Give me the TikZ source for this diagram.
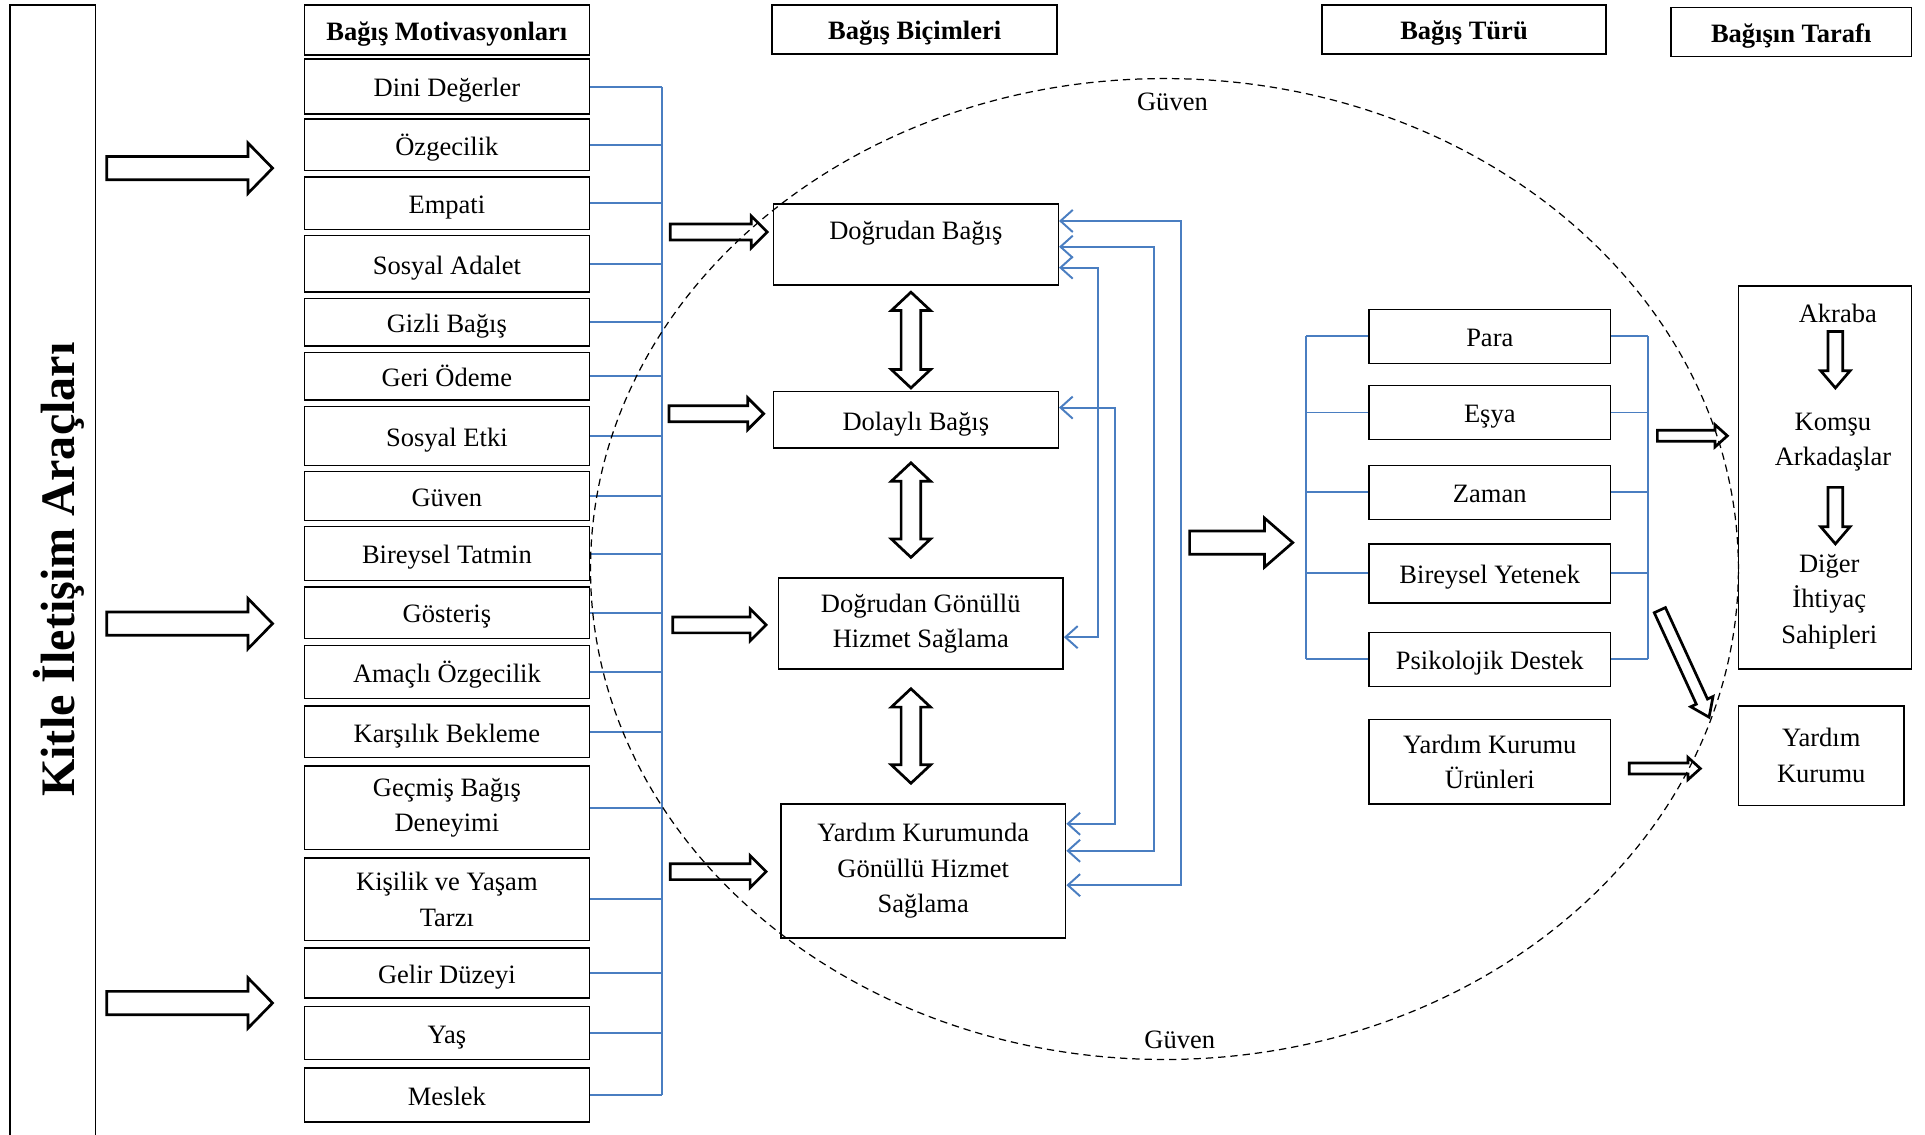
\documentclass[tikz,border=0pt]{standalone}
\usepackage{fontspec}
\setmainfont{Liberation Serif}
\usetikzlibrary{arrows.meta,calc}
\definecolor{fbblue}{RGB}{74,126,193}
\newcommand\bx[7][]{\node[box,#1,minimum width={(#4-#2)*0.5pt},minimum height={(#5-#3)*0.5pt}] (#6) at ({(#2+#4)/2},{(#3+#5)/2}) {#7};}
\newcommand\barrow[7]{\draw[blk,shift={(#1,#2)},rotate=#3] (0,#5) -- ({#4-#7},#5) -- ({#4-#7},#6) -- (#4,0) -- ({#4-#7},-#6) -- ({#4-#7},-#5) -- (0,-#5) -- cycle;}
\newcommand\dbarrow[6]{\draw[blk] ({#1-#4},{#2+#6}) -- ({#1-#5},{#2+#6}) -- (#1,#2) -- ({#1+#5},{#2+#6}) -- ({#1+#4},{#2+#6}) -- ({#1+#4},{#3-#6}) -- ({#1+#5},{#3-#6}) -- (#1,#3) -- ({#1-#5},{#3-#6}) -- ({#1-#4},{#3-#6}) -- cycle;}
\begin{document}
\begin{tikzpicture}[x=0.5pt,y=-0.5pt,
  box/.style={draw,line width=0.6pt,inner sep=0pt,align=center,font=\fontsize{10.8}{14.5}\selectfont},
  one/.style={text height=9.2pt,text depth=0.8pt},
  topt/.style={text height=8pt,text depth=12pt},
  hdr/.style={one,font=\bfseries\fontsize{10.8}{14.5}\selectfont},
  txt/.style={inner sep=0pt,align=center,font=\fontsize{10.8}{14.5}\selectfont},
  blk/.style={draw,line width=1.1pt,line join=miter,fill=white},
  fb/.style={draw=fbblue,line width=0.8pt},
  fba/.style={fb,{Straight Barb[length=5pt,width=9pt]}-{Straight Barb[length=5pt,width=9pt]}},
  guven/.style={draw,line width=0.5pt,dash pattern=on 3pt off 2pt}]
\useasboundingbox (0,0) rectangle (1568,924);
% left frame and title
\bx{8}{4}{78}{940}{kitle}{}
\node[font=\bfseries\fontsize{19.6}{24}\selectfont,rotate=90] (title) at (48,464) {Kitle İletişim Araçları};
% headers
\bx[hdr]{248}{4}{480}{45}{h1}{Bağış Motivasyonları}
\bx[hdr]{629}{4}{861}{44}{h2}{Bağış Biçimleri}
\bx[hdr]{1077}{4}{1308}{44}{h3}{Bağış Türü}
\bx[hdr]{1361}{6}{1557}{46}{h4}{Bağışın Tarafı}
% motivations
\bx[one]{248}{48}{480}{93}{m1}{Dini Değerler}
\bx[one]{248}{97}{480}{139}{m2}{Özgecilik}
\bx[one]{248}{144}{480}{187}{m3}{Empati}
\bx[one]{248}{192}{480}{238}{m4}{Sosyal Adalet}
\bx[one]{248}{243}{480}{282}{m5}{Gizli Bağış}
\bx[one]{248}{287}{480}{326}{m6}{Geri Ödeme}
\bx[one]{248}{331}{480}{379}{m7}{Sosyal Etki}
\bx[one]{248}{384}{480}{424}{m8}{Güven}
\bx[one]{248}{429}{480}{473}{m9}{Bireysel Tatmin}
\bx[one]{248}{478}{480}{520}{m10}{Gösteriş}
\bx[one]{248}{526}{480}{569}{m11}{Amaçlı Özgecilik}
\bx[one]{248}{575}{480}{617}{m12}{Karşılık Bekleme}
\bx{248}{624}{480}{692}{m13}{Geçmiş Bağış\\Deneyimi}
\bx{248}{699}{480}{766}{m14}{Kişilik ve Yaşam\\Tarzı}
\bx[one]{248}{772}{480}{813}{m15}{Gelir Düzeyi}
\bx[one]{248}{820}{480}{863}{m16}{Yaş}
\bx[one]{248}{870}{480}{914}{m17}{Meslek}
% forms
\bx[topt]{630}{166}{862}{232}{dogb}{Doğrudan Bağış}
\bx[one]{630}{319}{862}{365}{dolb}{Dolaylı Bağış}
\bx{634}{471}{866}{545}{dgh}{Doğrudan Gönüllü\\Hizmet Sağlama}
\bx{636}{655}{868}{764}{ykg}{Yardım Kurumunda\\Gönüllü Hizmet\\Sağlama}
% types
\bx[one]{1115}{252}{1312}{296}{t1}{Para}
\bx[one]{1115}{314}{1312}{358}{t2}{Eşya}
\bx[one]{1115}{379}{1312}{423}{t3}{Zaman}
\bx[one]{1115}{443}{1312}{491}{t4}{Bireysel Yetenek}
\bx[one]{1115}{515}{1312}{559}{t5}{Psikolojik Destek}
\bx{1115}{586}{1312}{655}{t6}{Yardım Kurumu\\Ürünleri}
% parties
\bx{1416}{233}{1557}{545}{taraf}{}
\bx{1416}{575}{1551}{656}{yk}{Yardım\\Kurumu}
\node[txt] (akr) at (1497,255) {Akraba};
\node[txt] (kom) at (1493,360) {Komşu\\Arkadaşlar};
\node[txt] (dig) at (1490,490) {Diğer\\İhtiyaç\\Sahipleri};
% blue bus
\coordinate (bus) at (539,0);
\foreach \i in {1,...,17} \draw[fb] (m\i.east) -- (m\i.east -| bus);
\draw[fb] (m1.east -| bus) -- (m17.east -| bus);
% type brackets
\coordinate (tl) at (1064,0);
\coordinate (tr) at (1342,0);
\foreach \i in {1,...,5} {\draw[fb] (t\i.west) -- (t\i.west -| tl); \draw[fb] (t\i.east) -- (t\i.east -| tr);}
\draw[fb] (t1.west -| tl) -- (t5.west -| tl);
\draw[fb] (t1.east -| tr) -- (t5.east -| tr);
% feedback arrows
\coordinate (vA) at (962,450);
\coordinate (vB) at (940,450);
\coordinate (vC) at (894,350);
\coordinate (vD) at (908,500);
\draw[fba] ([yshift=-5.5pt]dgh.east) -| (vC) |- ([yshift=-9.5pt]dogb.east);
\draw[fba] ([yshift=5pt]dolb.east) -| (vD) |- ([yshift=19.25pt]ykg.east);
\draw[fba] ([yshift=-1pt]dogb.east) -| (vB) |- ([yshift=8.25pt]ykg.east);
\draw[fba] ([yshift=9.5pt]dogb.east) -| (vA) |- ([yshift=-5.75pt]ykg.east);
% block arrows
\barrow{87}{137}{0}{135}{9.5}{20.5}{20}
\barrow{87}{508}{0}{135}{9.5}{20.5}{20}
\barrow{87}{817}{0}{135}{9.5}{20.5}{20}
\barrow{546}{189}{0}{79}{6.5}{13}{13}
\barrow{545}{337}{0}{77}{6.5}{13}{13}
\barrow{548}{509}{0}{76}{6.5}{13}{13}
\barrow{546}{710}{0}{78}{6.5}{13}{13}
\barrow{969}{442}{0}{84}{9.5}{20}{23}
\barrow{1350}{355}{0}{57}{4.5}{9}{10}
\barrow{1327}{626}{0}{58}{4.5}{9}{10}
\barrow{1352}{497}{-65.3}{96}{5}{10}{14}
\barrow{1495}{270}{-90}{46}{6}{12}{14}
\barrow{1495}{397}{-90}{46}{6}{12}{14}
\dbarrow{742}{238}{316}{8}{16}{15}
\dbarrow{742}{377}{454}{8}{16}{15}
\dbarrow{742}{561}{638}{8}{16}{15}
% trust ellipse
\draw[guven] (948.5,463.5) ellipse [x radius=233.75pt,y radius=199.75pt];
\node[txt] (g1) at (955,83) {Güven};
\node[txt] (g2) at (961,847) {Güven};
\end{tikzpicture}
\end{document}
